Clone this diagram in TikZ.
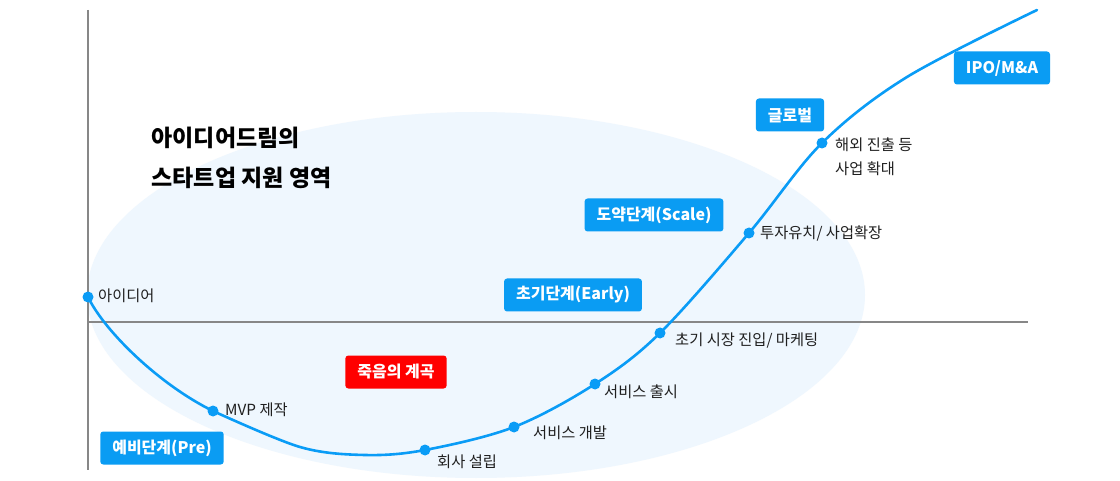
\documentclass[tikz,border=0pt]{standalone}
\usepackage{fontspec}
\setmainfont{Noto Sans CJK KR}
\usetikzlibrary{positioning}

\definecolor{curveblue}{HTML}{0A9CF6}
\definecolor{boxblue}{HTML}{0A9CF3}
\definecolor{areabg}{HTML}{EFF7FE}
\definecolor{axisgray}{HTML}{878787}
\definecolor{valley}{HTML}{FF0000}

\begin{document}
\begin{tikzpicture}[
        x=1pt, y=-1pt,
        axis/.style={draw=axisgray, line width=2.6pt},
        growth/.style={draw=curveblue, line width=2.6pt, line cap=round, line join=round},
        dot/.style={circle, fill=curveblue, inner sep=0pt, minimum size=11pt},
        lbl/.style={anchor=west, font=\fontsize{15.3}{18}\selectfont, text=black!88},
        stage/.style={rounded corners=3pt, fill=boxblue, text=white, inner xsep=12pt,
                      minimum height=33pt, font=\bfseries\fontsize{16}{18}\selectfont},
        title/.style={anchor=west, align=left, font=\bfseries\fontsize{23}{40}\selectfont}
    ]
        \useasboundingbox[fill=white] (0,0) rectangle (1120,481);

        % support area
        \fill[areabg] (476,295) ellipse [x radius=389, y radius=183];

        % axes
        \coordinate (ytop) at (88,10);
        \coordinate (ybot) at (88,470);
        \coordinate (xleft) at (88,322);
        \coordinate (xright) at (1028,322);
        \draw[axis] (ytop) -- (ybot);
        \draw[axis] (xleft) -- (xright);

        % milestones on the curve
        \coordinate (idea) at (88,297);
        \coordinate (mvp) at (213,411);
        \coordinate (firm) at (425,450);
        \coordinate (dev) at (514,427);
        \coordinate (launch) at (595,384);
        \coordinate (market) at (660,333);
        \coordinate (invest) at (749,233);
        \coordinate (global) at (822,143);
        \coordinate (cend) at (1037,10);

        \draw[growth] (idea) .. controls (105,332) and (160,385) .. (mvp);
        \draw[growth] plot[smooth, tension=0.55] coordinates {(mvp) (300,447) (365,455)
            (firm) (dev) (launch) (market) (invest) (global) (907,77) (cend)};

        \foreach \p in {idea, mvp, firm, dev, launch, market, invest, global}
            \node[dot] (\p dot) at (\p) {};

        \node[lbl] (idealbl) at ([shift={(1,-1)}]ideadot.east) {아이디어};
        \node[lbl] (mvplbl) at ([shift={(3,-1)}]mvpdot.east) {MVP 제작};
        \node[lbl] (firmlbl) at ([shift={(3,12)}]firmdot.east) {회사 설립};
        \node[lbl] (devlbl) at ([shift={(10,6)}]devdot.east) {서비스 개발};
        \node[lbl] (launchlbl) at ([shift={(0,8)}]launchdot.east) {서비스 출시};
        \node[lbl] (marketlbl) at ([shift={(6,8)}]marketdot.east) {초기 시장 진입/ 마케팅};
        \node[lbl] (investlbl) at ([shift={(2,0)}]investdot.east) {투자유치/ 사업확장};
        \node[lbl, align=left, font=\fontsize{15.3}{24}\selectfont] (globallbl)
            at ([shift={(4,14)}]globaldot.east) {해외 진출 등\\사업 확대};

        % stages
        \node[stage] (pre) at (162,448) {예비단계(Pre)};
        \node[stage, fill=valley] (death) at (396,372) {죽음의 계곡};
        \node[stage] (early) at (573,295) {초기단계(Early)};
        \node[stage] (scale) at (654,215) {도약단계(Scale)};
        \node[stage] (glob) at (790,115) {글로벌};
        \node[stage] (ipo) at (1002,68) {IPO/M\&A};

        \node[title] (head) at (148,158) {아이디어드림의\\스타트업 지원 영역};
    \end{tikzpicture}
\end{document}
